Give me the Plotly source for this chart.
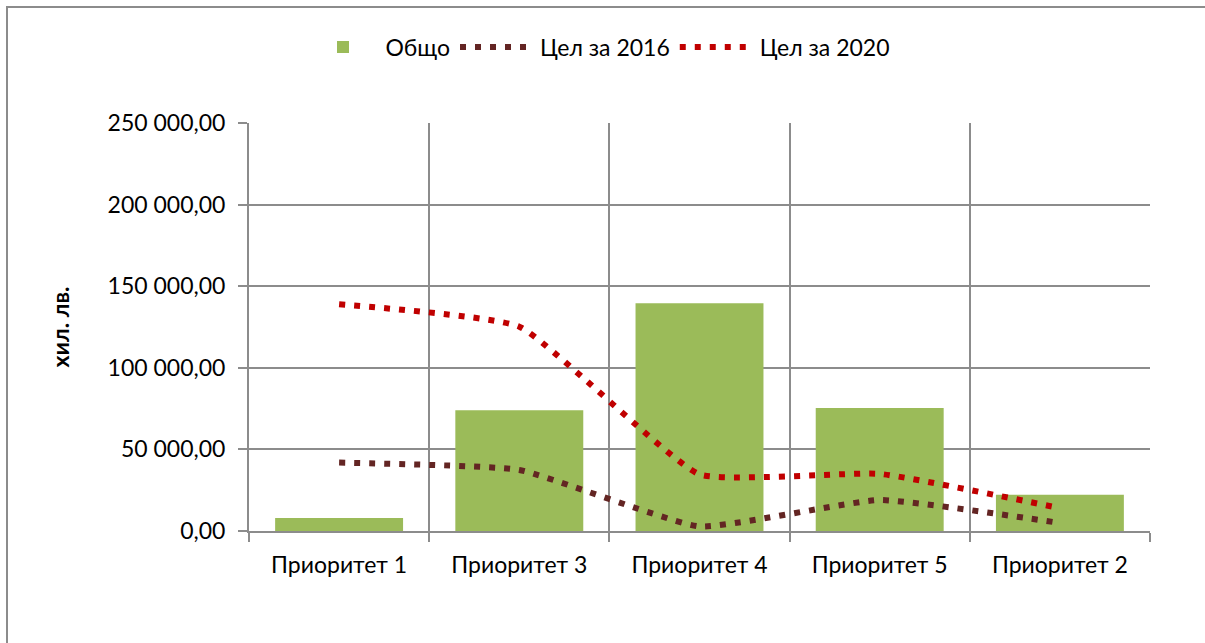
import plotly.graph_objects as go

categories = ["Приоритет 1", "Приоритет 3", "Приоритет 4", "Приоритет 5", "Приоритет 2"]
total = [8000, 74000, 139500, 75300, 22200]
target_2016 = [41900, 37400, 2800, 19000, 4900]
target_2020 = [138900, 125200, 34700, 35000, 14000]
y_tick_vals = [0, 50000, 100000, 150000, 200000, 250000]
y_tick_text = ["0,00", "50 000,00", "100 000,00", "150 000,00", "200 000,00", "250 000,00"]

FONT = "Lato"
GRID = "#8c8c8c"
FS = 23

fig = go.Figure()
fig.add_trace(go.Bar(x=categories, y=total, name="Общо",
                     marker=dict(color="#9BBB59", line=dict(width=0)), width=0.71))
fig.add_trace(go.Scatter(x=categories, y=target_2016, name="Цел за 2016", mode="lines",
                         line=dict(color="#632523", width=6, dash="6px,9px", shape="spline", smoothing=0.4)))
fig.add_trace(go.Scatter(x=categories, y=target_2020, name="Цел за 2020", mode="lines",
                         line=dict(color="#C00000", width=6, dash="6px,9px", shape="spline", smoothing=0.4)))

W, H = 1205, 643
L, R, T, B = 249, 1150, 123, 531
pw, ph = R - L, B - T

fig.update_layout(
    width=W, height=H,
    margin=dict(l=L, r=W - R, t=T, b=H - B, autoexpand=False),
    paper_bgcolor="white", plot_bgcolor="white",
    font=dict(family=FONT, size=FS, color="black"),
    showlegend=True,
    legend=dict(orientation="h", x=(598 - L) / pw, xanchor="center", y=(B - 47) / ph, yanchor="middle",
                font=dict(family=FONT, size=FS), itemwidth=75, traceorder="normal"),
    xaxis=dict(type="category", range=[-0.5, 4.5], tickson="boundaries", showgrid=True,
               gridcolor=GRID, gridwidth=2, showline=True, linecolor=GRID, linewidth=2,
               ticks="outside", ticklen=9, tickcolor=GRID, tickwidth=2, ticklabelstandoff=12,
               tickfont=dict(family=FONT, size=FS), zeroline=False),
    yaxis=dict(range=[0, 250000], tickvals=y_tick_vals, ticktext=y_tick_text, showgrid=True,
               gridcolor=GRID, gridwidth=2, showline=True, linecolor=GRID, linewidth=2,
               ticks="outside", ticklen=9, tickcolor=GRID, tickwidth=2, zeroline=False,
               ticklabelstandoff=8, tickfont=dict(family=FONT, size=FS),
               title=dict(text="<b>хил. лв.</b>", font=dict(family=FONT, size=23), standoff=32)),
    shapes=[dict(type="rect", xref="paper", yref="paper",
                 x0=(7 - L) / pw, x1=(W + 10 - L) / pw,
                 y0=(B - (H + 10)) / ph, y1=(B - 7) / ph,
                 line=dict(color=GRID, width=2), layer="below")],
)

fig.write_html("out.html", config={"displayModeBar": False},
               post_script="document.body.style.margin='0';")
